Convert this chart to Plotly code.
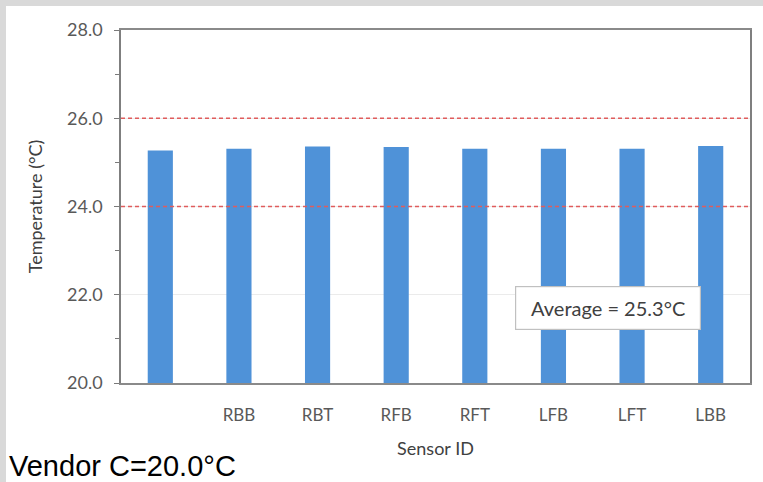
import plotly.graph_objects as go

sensors = ["", "RBB", "RBT", "RFB", "RFT", "LFB", "LFT", "LBB"]
temps = [25.27, 25.31, 25.36, 25.35, 25.31, 25.31, 25.31, 25.37]
thresholds = [24.0, 26.0]
y_ticks = [20.0, 22.0, 24.0, 26.0, 28.0]
average_label = "Average = 25.3°C"
vendor_label = "Vendor C=20.0°C"

FONT = "Lato, 'Open Sans', sans-serif"
x_pos = list(range(len(sensors)))

fig = go.Figure()
fig.add_trace(go.Bar(
    x=x_pos, y=temps, width=0.32,
    marker=dict(color="#4f92d8", line=dict(width=0)),
    showlegend=False, hoverinfo="skip",
))

PW, PH = 629, 353
shapes = [
    # grey top strip
    dict(type="rect", xref="paper", yref="paper",
         x0=(0 - 121) / PW, x1=(763 - 121) / PW, y0=(383 - 6) / PH, y1=383 / PH,
         fillcolor="#d9d9d9", line=dict(width=0), layer="below"),
    # grey left strip
    dict(type="rect", xref="paper", yref="paper",
         x0=(0 - 121) / PW, x1=(6 - 121) / PW, y0=(383 - 482) / PH, y1=383 / PH,
         fillcolor="#d9d9d9", line=dict(width=0), layer="below"),
    # keep the right margin white
    dict(type="rect", xref="paper", yref="paper",
         x0=(753 - 121) / PW, x1=(763 - 121) / PW, y0=(383 - 482) / PH, y1=(383 - 6) / PH,
         fillcolor="white", line=dict(width=0), layer="above"),
]
for t in thresholds:
    shapes.append(dict(type="line", xref="paper", yref="y", x0=0, x1=1, y0=t, y1=t,
                       line=dict(color="#e05c5c", width=1.5, dash="4px,3px"), layer="above"))

fig.update_layout(
    width=763, height=482,
    margin=dict(l=121, r=13, t=30, b=99),
    paper_bgcolor="white",
    plot_bgcolor="white",
    font=dict(family=FONT, color="#595959"),
    shapes=shapes,
    xaxis=dict(
        range=[-0.5, len(sensors) - 0.5],
        tickvals=x_pos, ticktext=sensors,
        tickfont=dict(size=17, color="#595959"),
        ticks="", ticklabelstandoff=16,
        showgrid=False, zeroline=False,
        showline=True, linecolor="#8a8a8a", linewidth=1.5, mirror=True,
        title=dict(text="Sensor ID", font=dict(size=18, color="#404040"), standoff=18),
    ),
    yaxis=dict(
        range=[20, 28], tickvals=y_ticks, ticktext=[f"{v:.1f}" for v in y_ticks],
        tickfont=dict(size=18, color="#595959"),
        ticks="outside", ticklen=5, tickcolor="#7a7a7a", tickwidth=1.2,
        ticklabelstandoff=8,
        minor=dict(dtick=1, tick0=21, ticks="outside", ticklen=4, tickcolor="#7a7a7a", showgrid=False),
        showgrid=True, gridcolor="#ebebeb", gridwidth=1, zeroline=False,
        showline=True, linecolor="#7f7f7f", linewidth=1.5, mirror=True,
        title=dict(text="Temperature (°C)", font=dict(size=18, color="#404040"), standoff=20),
    ),
    annotations=[
        dict(x=5.688, y=21.70, xref="x", yref="y", text=average_label, showarrow=False,
             font=dict(family=FONT, size=20, color="#404040"),
             bgcolor="white", bordercolor="#c0c0c0", borderwidth=1.2, borderpad=3,
             width=178, height=36, align="center"),
        dict(x=(7 - 121) / PW, y=(383 - 466) / PH, xref="paper", yref="paper",
             xanchor="left", yanchor="middle", text=vendor_label, showarrow=False,
             font=dict(family="Liberation Sans, Arial, sans-serif", size=29, color="#000000")),
    ],
)

fig.write_html("out.html")
